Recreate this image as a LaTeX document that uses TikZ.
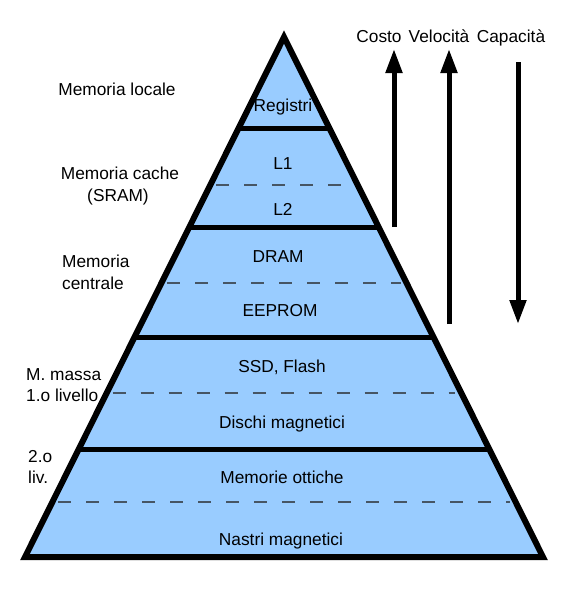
\documentclass[tikz,border=0pt]{standalone}
\usepackage{fontspec}
\setmainfont{Liberation Sans}
\usetikzlibrary{calc,arrows.meta}
\definecolor{pyrfill}{RGB}{153,204,255}
\definecolor{dashcol}{RGB}{70,85,100}
\begin{document}
\begin{tikzpicture}[x=1pt,y=-1pt,
  lbl/.style={font=\fontsize{17.3}{22}\selectfont, inner sep=0pt, anchor=base},
  lbll/.style={lbl, anchor=base west},
  sepline/.style={line width=5pt},
  dsh/.style={draw=dashcol, line width=1.2pt, dash pattern=on 13pt off 15pt},
  bigarrow/.style={line width=5pt, -{Triangle[length=24pt,width=16pt]}}]
\useasboundingbox (0,0) rectangle (566,595);
\coordinate (A) at (284,37);
\coordinate (BL) at (25,557);
\coordinate (BR) at (543,557);
% body
\fill[pyrfill] (A) -- (BL) -- (BR) -- cycle;
% dashed sub-levels
\foreach \t in {0.2846,0.4731,0.6846,0.8942}{
  \draw[dsh] ($(A)!\t!(BL)+(6,0)$) -- ($(A)!\t!(BR)-(6,0)$);
}
% level separators
\foreach \t in {0.1769,0.3654,0.5788,0.7942}{
  \draw[sepline] ($(A)!\t!(BL)$) -- ($(A)!\t!(BR)$);
}
% outline
\draw[line width=6pt] (A) -- (BL) -- (BR) -- cycle;
% inside labels
\node[lbl] (reg) at (283,111) {Registri};
\node[lbl] (l1) at (283,169) {L1};
\node[lbl] (l2) at (283,215) {L2};
\node[lbl] (dram) at (278,262) {DRAM};
\node[lbl] (eeprom) at (280,316) {EEPROM};
\node[lbl] (ssd) at (282,372) {SSD, Flash};
\node[lbl] (dischi) at (282,428) {Dischi magnetici};
\node[lbl] (ottiche) at (282,483) {Memorie ottiche};
\node[lbl] (nastri) at (281,545) {Nastri magnetici};
% left labels
\node[lbl] (loc) at (117,95) {Memoria locale};
\node[lbl] (cache1) at (120,179) {Memoria cache};
\node[lbl] (cache2) at (118,201) {(SRAM)};
\node[lbll] (centr1) at (62,267) {Memoria};
\node[lbll] (centr2) at (62,289) {centrale};
\node[lbll] (massa1) at (26,380) {M. massa};
\node[lbll] (massa2) at (26,401) {1.o livello};
\node[lbll] (liv1) at (28,462) {2.o};
\node[lbll] (liv2) at (28,483) {liv.};
% arrow labels
\node[lbl] (costo) at (379,42) {Costo};
\node[lbl] (vel) at (439,42) {Velocità};
\node[lbl] (cap) at (511,42) {Capacità};
% arrows
\coordinate (costoS) at (394,227);
\coordinate (costoE) at (394,49);
\coordinate (velS) at (449,324);
\coordinate (velE) at (449,49);
\coordinate (capS) at (518,62);
\coordinate (capE) at (518,324);
\draw[bigarrow] (costoS) -- (costoE);
\draw[bigarrow] (velS) -- (velE);
\draw[bigarrow] (capS) -- (capE);
\end{tikzpicture}
\end{document}
